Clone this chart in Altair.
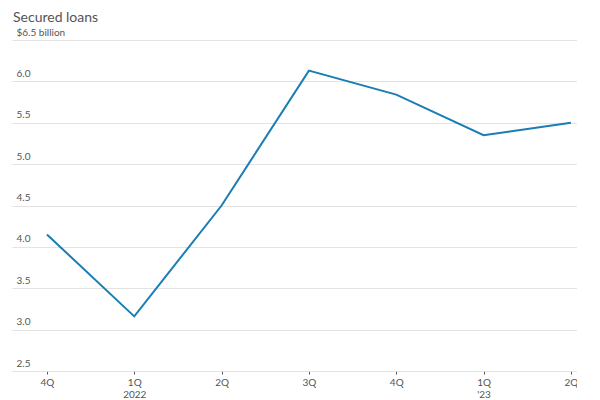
import altair as alt
import pandas as pd

quarters = ["4Q", "1Q", "2Q", "3Q", "4Q", "1Q", "2Q"]
years = ["", "2022", "", "", "", "'23", ""]
values = [4.15, 3.16, 4.50, 6.13, 5.84, 5.35, 5.50]
y_ticks = [2.5, 3.0, 3.5, 4.0, 4.5, 5.0, 5.5, 6.0, 6.5]

df = pd.DataFrame({"i": list(range(len(values))), "v": values})

label_items = []
for i, (q, yr) in enumerate(zip(quarters, years)):
    if yr:
        label_items.append(f"datum.value == {i} ? ['{q}', \"{yr}\"]")
    else:
        label_items.append(f"datum.value == {i} ? '{q}'")
x_label_expr = " : ".join(label_items) + " : ''"

FONT = "Lato"

x_scale = alt.Scale(domain=[-0.40, 6.07], nice=False, zero=False)
y_scale = alt.Scale(domain=[2.5, 6.5], nice=False, zero=False)

line = alt.Chart(df).mark_line(color="#1a7db3", strokeWidth=2).encode(
    x=alt.X("i:Q", scale=x_scale,
            axis=alt.Axis(values=list(range(len(values))), labelExpr=x_label_expr,
                          title=None, grid=False, domain=True, domainColor="#e3e3e3",
                          tickColor="#555",
                          tickSize=3, tickWidth=1, labelColor="#555", labelFont=FONT,
                          labelFontSize=10, labelPadding=3, labelLineHeight=12,
                          labelFlush=False)),
    y=alt.Y("v:Q", scale=y_scale,
            axis=alt.Axis(values=y_ticks, title=None, domain=False, ticks=False,
                          grid=True, gridColor="#e3e3e3", gridWidth=1,
                          labelAlign="left", labelBaseline="bottom",
                          labelPadding=-4, labelOffset=-3,
                          labelColor="#555", labelFont=FONT, labelFontSize=10,
                          labelExpr="datum.value == 6.5 ? '$6.5 billion' : format(datum.value, '.1f')")),
)

title = alt.Chart(pd.DataFrame({"t": ["Secured loans"]})).mark_text(
    align="left", baseline="alphabetic", font=FONT, fontSize=14, color="#555"
).encode(text="t:N", x=alt.value(1), y=alt.value(-18))

chart = alt.layer(line, title).properties(
    width=565, height=331,
    autosize=alt.AutoSizeParams(type="none"),
    padding={"left": 4, "top": 32, "right": 0, "bottom": 40},
).configure_view(stroke=None)

chart.save("out.html", embed_options={"renderer": "svg", "actions": False})
